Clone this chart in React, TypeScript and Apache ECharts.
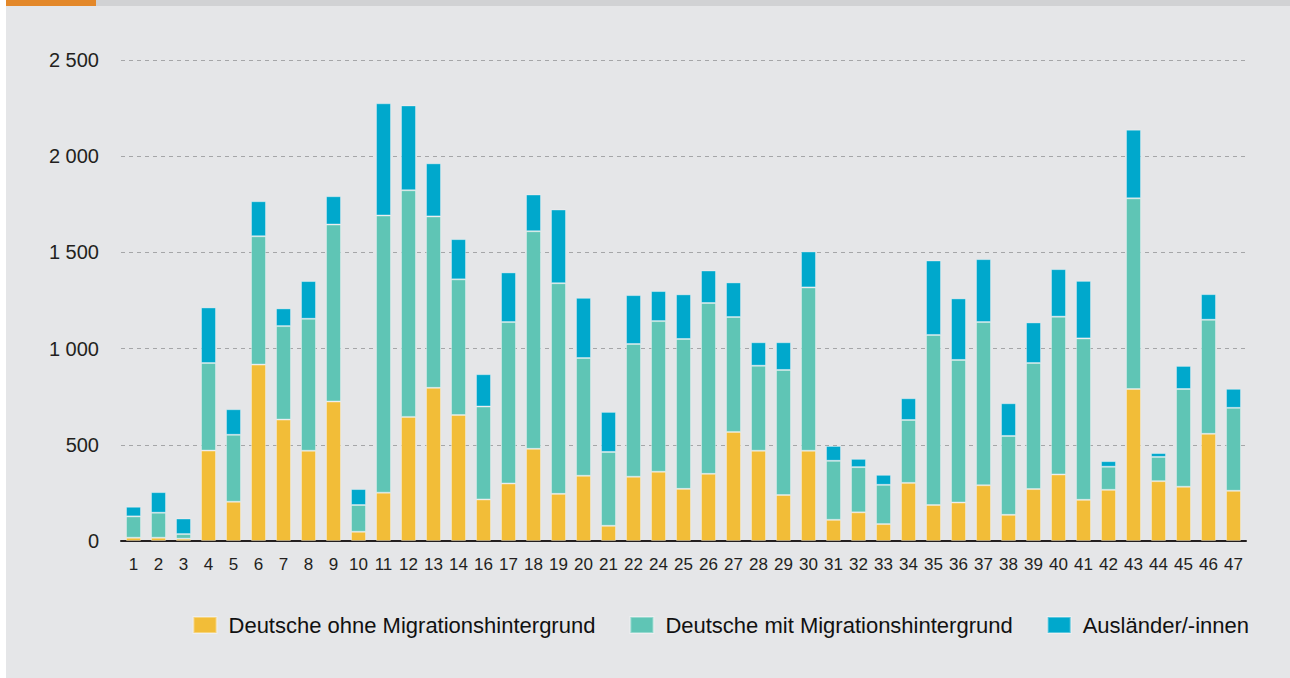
import React, { useEffect, useRef } from "react";
import * as echarts from "echarts";

const categories = ["1","2","3","4","5","6","7","8","9","10","11","12","13","14","16","17","18","19","20","21","22","24","25","26","27","28","29","30","31","32","33","34","35","36","37","38","39","40","41","42","43","44","45","46","47"];
const ohneMigration = [17,17,12,470,204,917,631,469,725,48,251,645,796,655,216,299,479,245,339,79,334,360,271,349,567,469,239,469,110,149,88,302,187,200,290,136,270,346,214,266,790,311,282,557,261];
const mitMigration = [111,130,24,455,348,667,486,686,920,139,1441,1178,891,705,483,839,1131,1095,612,384,690,783,779,888,597,442,650,849,307,235,204,327,884,741,848,410,655,820,839,120,991,126,508,593,431];
const auslaender = [50,107,81,289,133,182,92,196,147,83,583,441,276,209,168,258,191,383,313,208,254,156,232,169,180,122,144,187,77,43,52,113,387,320,327,170,211,247,299,29,357,20,120,133,99];
const seriesNames = ["Deutsche ohne Migrationshintergrund", "Deutsche mit Migrationshintergrund", "Ausländer/-innen"];
const colors = ["#f2bd38", "#5fc5b5", "#00a8cc"];
const yTicks = { min: 0, max: 2500, interval: 500 };

const FONT = "'Liberation Sans', Arial, Helvetica, sans-serif";

export default function App() {
  const ref = useRef<HTMLDivElement>(null);
  useEffect(() => {
    document.body.style.margin = "0";
    const chart = echarts.init(ref.current!, null, { renderer: "svg" });
    const data = [ohneMigration, mitMigration, auslaender];
    chart.setOption({
      animation: false,
      textStyle: { fontFamily: FONT },
      grid: { left: 121, right: 44, top: 60, bottom: 137, containLabel: false },
      legend: {
        right: 36,
        top: 609,
        itemWidth: 23,
        itemHeight: 16,
        itemGap: 34,
        icon: "rect",
        textStyle: { fontSize: 22, color: "#111", fontFamily: FONT, padding: [0, 0, 0, 7] },
        data: seriesNames,
      },
      xAxis: {
        type: "category",
        data: categories,
        axisLine: { show: true, lineStyle: { color: "#231f20", width: 2 } },
        axisTick: { show: false },
        axisLabel: { fontSize: 17, color: "#231f20", margin: 15, interval: 0, fontFamily: FONT },
      },
      yAxis: {
        type: "value",
        min: yTicks.min,
        max: yTicks.max,
        interval: yTicks.interval,
        axisLine: { show: false },
        axisTick: { show: false },
        axisLabel: {
          fontSize: 20,
          color: "#231f20",
          margin: 22,
          fontFamily: FONT,
          formatter: (v: number) => (v >= 1000 ? Math.floor(v / 1000) + " " + String(v % 1000).padStart(3, "0") : String(v)),
        },
        splitLine: { show: true, lineStyle: { color: "#a5a6a8", width: 1, type: [4, 4] } },
      },
      series: data.map((d, i) => ({
        name: seriesNames[i],
        type: "bar",
        stack: "total",
        barWidth: 15,
        data: d,
        itemStyle: { color: colors[i], borderColor: "rgba(255,255,255,0.35)", borderWidth: 1 },
      })),
    });
    return () => chart.dispose();
  }, []);
  return (
    <div style={{ position: "relative", width: 1290, height: 678, background: "#ffffff", overflow: "hidden" }}>
      <div style={{ position: "absolute", left: 6, top: 0, width: 1284, height: 678, background: "#e5e6e8" }} />
      <div style={{ position: "absolute", left: 96, top: 0, width: 1194, height: 6, background: "#d1d2d4" }} />
      <div style={{ position: "absolute", left: 6, top: 0, width: 90, height: 6, background: "#e3882a" }} />
      <div ref={ref} style={{ position: "absolute", left: 0, top: 0, width: 1290, height: 678 }} />
    </div>
  );
}
